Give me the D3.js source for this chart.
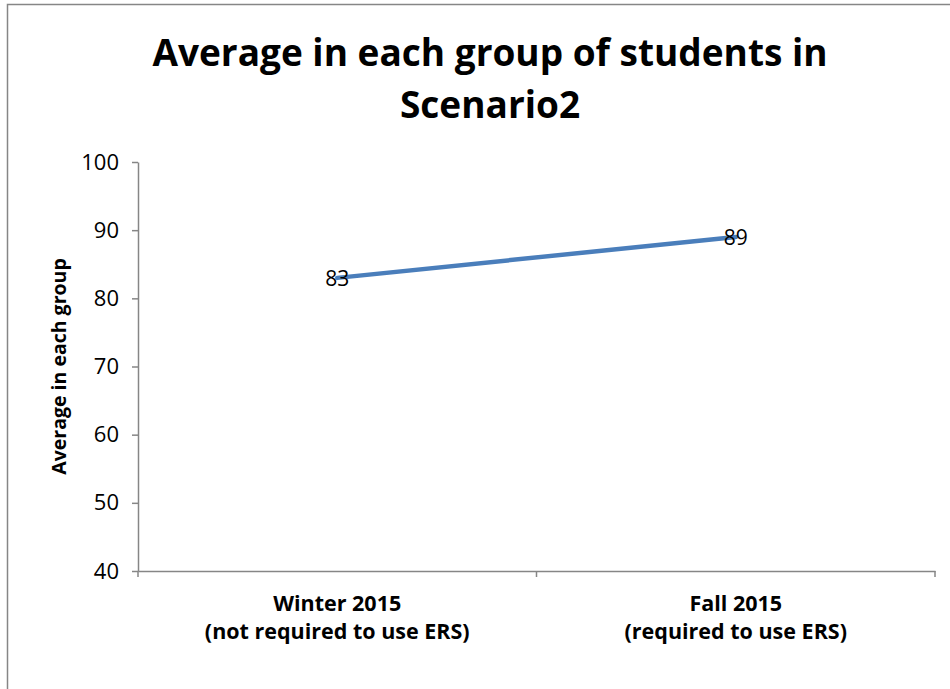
<!DOCTYPE html>
<html>
<head>
<meta charset="utf-8">
<script src="https://cdn.jsdelivr.net/npm/d3@7"></script>
<style>
  body { margin: 0; background: #fff; }
  text { font-family: "Open Sans", Lato, sans-serif; }
</style>
</head>
<body>
<script>
// data
var categories = ["Winter 2015|(not required to use ERS)", "Fall 2015|(required to use ERS)"];
var values = [83, 89];
var yTicks = [40, 50, 60, 70, 80, 90, 100];

function drawChart() {
  var w = 950, h = 689;
  var plotLeft = 138, plotRight = 935, plotTop = 162, plotBottom = 571;

  var svg = d3.select("body").append("svg")
    .attr("width", w)
    .attr("height", h);

  // chart border
  svg.append("rect")
    .attr("x", 7.5).attr("y", 4.5)
    .attr("width", 960).attr("height", 700)
    .attr("fill", "white")
    .attr("stroke", "#868686")
    .attr("stroke-width", 1.5);

  var x = d3.scaleBand().domain(categories).range([plotLeft, plotRight]);
  var y = d3.scaleLinear().domain([40, 100]).range([plotBottom, plotTop]);

  // y axis
  var yAxis = svg.append("g")
    .attr("transform", "translate(" + plotLeft + ",0)")
    .call(d3.axisLeft(y).tickValues(yTicks).tickSize(6).tickPadding(13).tickSizeOuter(0));
  yAxis.select(".domain").attr("stroke", "#868686").attr("stroke-width", 1.5);
  yAxis.selectAll(".tick line").attr("stroke", "#868686").attr("stroke-width", 1.5);
  yAxis.selectAll(".tick text")
    .attr("font-size", "22px")
    .attr("fill", "#000")
    .style("font-family", "'Open Sans', sans-serif");

  // x axis
  var xAxis = svg.append("g")
    .attr("transform", "translate(0," + plotBottom + ")")
    .call(d3.axisBottom(x).tickSize(0).tickFormat(""));
  xAxis.select(".domain").attr("stroke", "#868686").attr("stroke-width", 1.5);
  xAxis.selectAll(".tick").remove();

  // category boundary ticks
  var bounds = [plotLeft].concat(categories.map(function(c) { return x(c) + x.bandwidth(); }));
  xAxis.selectAll(".bound")
    .data(bounds)
    .enter().append("line")
    .attr("x1", function(d) { return d; })
    .attr("x2", function(d) { return d; })
    .attr("y1", 0).attr("y2", 6)
    .attr("stroke", "#868686").attr("stroke-width", 1.5);

  // category labels
  var catLabels = svg.selectAll(".cat")
    .data(categories)
    .enter().append("text")
    .attr("class", "cat")
    .attr("text-anchor", "middle")
    .attr("font-size", "21.5px")
    .attr("font-weight", "bold")
    .attr("fill", "#000");
  catLabels.each(function(d) {
    var t = d3.select(this);
    var cx = x(d) + x.bandwidth() / 2;
    d.split("|").forEach(function(line, i) {
      t.append("tspan")
        .attr("x", cx)
        .attr("y", 611 + i * 28)
        .text(line);
    });
  });

  // line
  var line = d3.line()
    .x(function(d, i) { return x(categories[i]) + x.bandwidth() / 2; })
    .y(function(d) { return y(d); });

  svg.append("path")
    .datum(values)
    .attr("d", line)
    .attr("fill", "none")
    .attr("stroke", "#4a7ebb")
    .attr("stroke-width", 4.5)
    .attr("stroke-linecap", "round");

  // data labels
  svg.selectAll(".val")
    .data(values)
    .enter().append("text")
    .attr("class", "val")
    .attr("x", function(d, i) { return x(categories[i]) + x.bandwidth() / 2; })
    .attr("y", function(d) { return y(d) + 8; })
    .attr("text-anchor", "middle")
    .attr("font-size", "21px")
    .attr("fill", "#000")
    .text(function(d) { return d; });

  // y title
  svg.append("text")
    .attr("transform", "translate(66," + ((plotTop + plotBottom) / 2) + ") rotate(-90)")
    .attr("text-anchor", "middle")
    .attr("font-size", "19.5px")
    .attr("font-weight", "bold")
    .attr("fill", "#000")
    .text("Average in each group");

  // title
  var title = svg.append("text")
    .attr("text-anchor", "middle")
    .attr("font-size", "37px")
    .attr("font-weight", "bold")
    .attr("fill", "#000");
  title.append("tspan").attr("x", 490).attr("y", 66).text("Average in each group of students in");
  title.append("tspan").attr("x", 490).attr("y", 118).text("Scenario2");
}

drawChart();
</script>
</body>
</html>
